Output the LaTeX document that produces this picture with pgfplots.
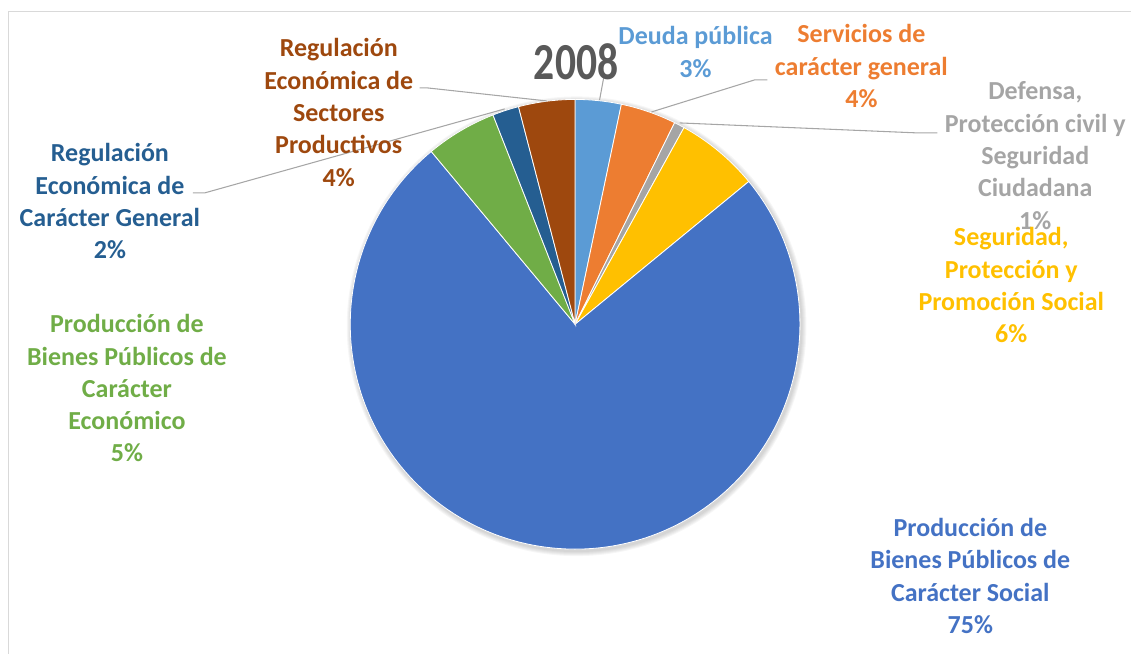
\documentclass[border=0pt]{standalone}
\usepackage{fontspec}
\setmainfont{Carlito}
\usepackage{graphicx}
\usepackage{pgfplots}
\pgfplotsset{compat=1.18}

\definecolor{cDeuda}{HTML}{5B9BD5}
\definecolor{cServ}{HTML}{ED7D31}
\definecolor{cDef}{HTML}{A5A5A5}
\definecolor{cSeg}{HTML}{FFC000}
\definecolor{cSoc}{HTML}{4472C4}
\definecolor{cEco}{HTML}{70AD47}
\definecolor{cRegG}{HTML}{255E91}
\definecolor{cRegS}{HTML}{9E480E}
\definecolor{cTitle}{HTML}{595959}
\definecolor{cLead}{HTML}{A6A6A6}
\definecolor{cFrame}{HTML}{D9D9D9}

% share of each slice (%), clockwise from 12 o'clock
\def\slices{3.3/cDeuda, 4.0/cServ, 0.75/cDef, 6.0/cSeg, 74.9/cSoc, 5.1/cEco, 1.9/cRegG, 4.05/cRegS}

\newcommand\lblfont{\bfseries\fontsize{19.5}{24}\selectfont}
% one label: colour, centre x, first baseline y (pixels from top), lines
\newcommand\lbl[4]{%
  \foreach \t [count=\i from 0] in {#4} {%
    \pgfmathsetmacro\yy{654-(#3)-32.3*\i}%
    \edef\temp{\noexpand\node[anchor=base,text=#1,font=\noexpand\lblfont,inner sep=0pt] at (axis cs:#2,\yy) {\t};}%
    \temp
  }}

\begin{document}
\begin{tikzpicture}
\begin{axis}[
    hide axis,
    x=0.75pt, y=0.75pt,
    xmin=0, xmax=1132, ymin=0, ymax=654,
    clip=false,
]
\path (axis cs:0,0) rectangle (axis cs:1132,654);
% chart frame (only left and top edges visible)
\draw[cFrame, line width=1.2pt] (axis cs:8.5,0) -- (axis cs:8.5,642.5) -- (axis cs:1132,642.5);

% soft shadow
\fill[black, opacity=0.035] (axis cs:577,327.5) circle[radius=172.5pt];
\fill[black, opacity=0.035] (axis cs:577,327.5) circle[radius=171.75pt];
\fill[black, opacity=0.035] (axis cs:577,327.5) circle[radius=171pt];
\fill[black, opacity=0.035] (axis cs:577,327.5) circle[radius=170.25pt];
\fill[black, opacity=0.035] (axis cs:577,327.5) circle[radius=169.5pt];

% slices
\xdef\cum{0}
\foreach \v/\c in \slices {
  \pgfmathsetmacro\a{90-3.6*\cum}
  \pgfmathsetmacro\b{90-3.6*(\cum+\v)}
  \edef\temp{\noexpand\fill[\c, draw=white, line width=0.6pt] (axis cs:575.5,329.5) -- ++(\a:168.75pt) arc[start angle=\a, end angle=\b, radius=168.75pt] -- cycle;}
  \temp
  \pgfmathsetmacro\n{\cum+\v}
  \xdef\cum{\n}
}

% leader lines
\draw[cLead, line width=0.8pt] (axis cs:600,554) -- (axis cs:605,581);
\draw[cLead, line width=0.8pt] (axis cs:652,542) -- (axis cs:755,574) -- (axis cs:768,574);
\draw[cLead, line width=0.8pt] (axis cs:680,531) -- (axis cs:918,521) -- (axis cs:938,521);
\draw[cLead, line width=0.8pt] (axis cs:547,553) -- (axis cs:428,566) -- (axis cs:420,566);
\draw[cLead, line width=0.8pt] (axis cs:505,545) -- (axis cs:205,461) -- (axis cs:193,461);

% title
\node[anchor=base, text=cTitle, inner sep=0pt, font=\bfseries\fontsize{39}{40}\selectfont]
  at (axis cs:576.5,574) {\scalebox{0.8}[1]{2008}};

% data labels
\lbl{cDeuda}{696}{45}{{Deuda pública},{3\%}}
\lbl{cServ}{862}{43}{{Servicios de},{carácter general},{4\%}}
\lbl{cDef}{1036}{100}{{Defensa,},{Protección civil y},{Seguridad},{Ciudadana},{1\%}}
\lbl{cSeg}{1012}{246}{{Seguridad,},{Protección y},{Promoción Social},{6\%}}
\lbl{cSoc}{971}{537}{{Producción de},{Bienes Públicos de},{Carácter Social},{75\%}}
\lbl{cEco}{127}{333}{{Producción de},{Bienes Públicos de},{Carácter},{Económico},{5\%}}
\lbl{cRegG}{110}{162}{{Regulación},{Económica de},{Carácter General},{2\%}}
\lbl{cRegS}{339}{57}{{Regulación},{Económica de},{Sectores},{Productivos},{4\%}}
\end{axis}
\end{tikzpicture}
\end{document}
